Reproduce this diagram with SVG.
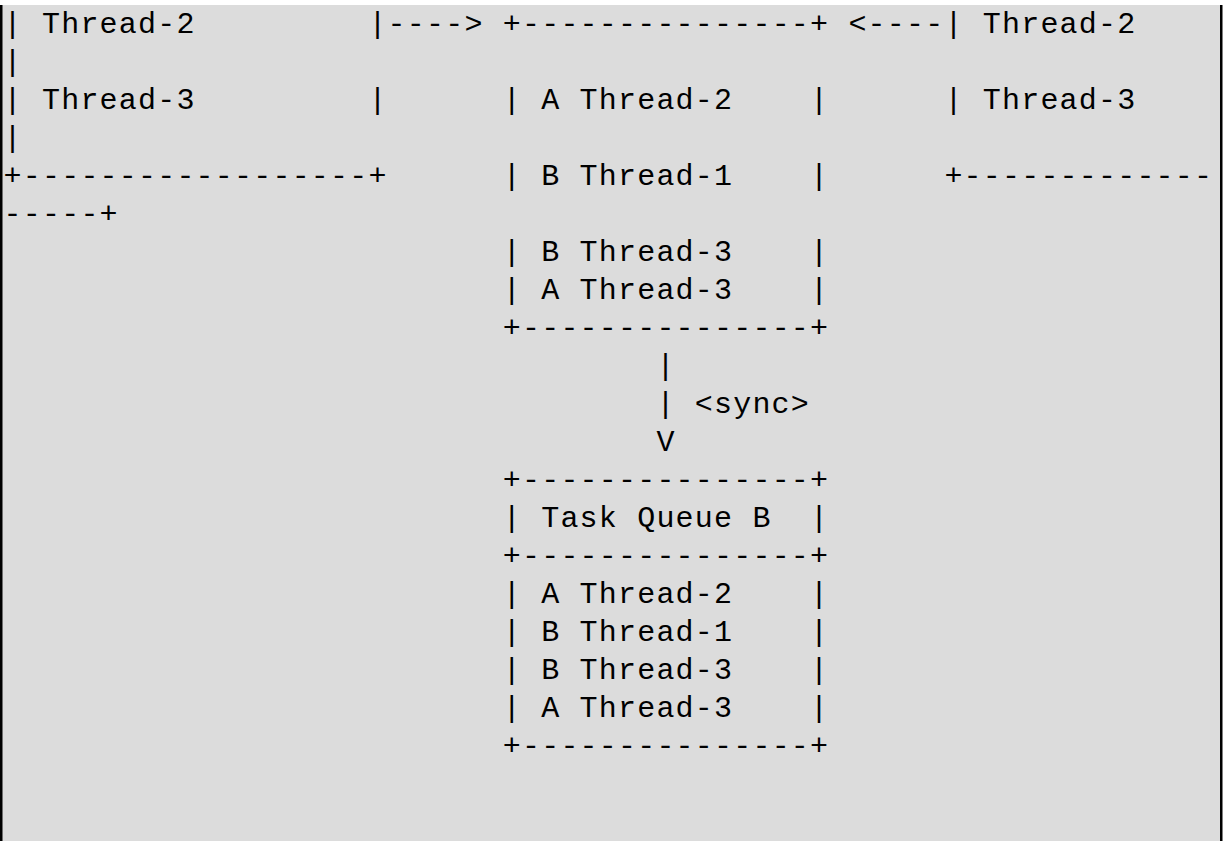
<svg xmlns="http://www.w3.org/2000/svg" width="1225" height="841" viewBox="0 0 1225 841">
<style>
  text { font-family: "Liberation Mono", "DejaVu Sans Mono", monospace; font-size: 30px; letter-spacing: 1.2px; fill: #000; white-space: pre; }
</style>
<rect x="0" y="0" width="1225" height="841" fill="#ffffff"/>
<rect x="2" y="5" width="1218" height="836" fill="#dcdcdc"/>
<rect x="0" y="5" width="2.5" height="836" fill="#000"/>
<rect x="1220" y="5" width="2.5" height="836" fill="#000"/>
<g id="left-threads" xml:space="preserve">
  <text x="3.6" y="33">| Thread-2</text>
  <text x="368.4" y="33">|</text>
  <text x="3.6" y="109">| Thread-3</text>
  <text x="368.4" y="109">|</text>
  <text x="3.6" y="185">+------------------+</text>
</g>
<g id="merged-queue" xml:space="preserve">
  <text x="502.8" y="33">+---------------+</text>
  <text x="502.8" y="109">| A Thread-2    |</text>
  <text x="502.8" y="185">| B Thread-1    |</text>
  <text x="502.8" y="261">| B Thread-3    |</text>
  <text x="502.8" y="299">| A Thread-3    |</text>
  <text x="502.8" y="337">+---------------+</text>
</g>
<g id="right-threads" xml:space="preserve">
  <text x="944.4" y="33">| Thread-2</text>
  <text x="3.6" y="71">|</text>
  <text x="944.4" y="109">| Thread-3</text>
  <text x="3.6" y="147">|</text>
  <text x="944.4" y="185">+-------------</text>
  <text x="3.6" y="223">-----+</text>
</g>
<g id="task-queue-b" xml:space="preserve">
  <text x="502.8" y="489">+---------------+</text>
  <text x="502.8" y="527">| Task Queue B  |</text>
  <text x="502.8" y="565">+---------------+</text>
  <text x="502.8" y="603">| A Thread-2    |</text>
  <text x="502.8" y="641">| B Thread-1    |</text>
  <text x="502.8" y="679">| B Thread-3    |</text>
  <text x="502.8" y="717">| A Thread-3    |</text>
  <text x="502.8" y="755">+---------------+</text>
</g>
<g id="connectors" xml:space="preserve">
  <text x="387.6" y="33">----&gt;</text>
  <text x="848.4" y="33">&lt;----</text>
  <text x="656.4" y="375">|</text>
  <text x="656.4" y="413">|</text>
  <text x="694.8" y="413">&lt;sync&gt;</text>
  <text x="656.4" y="451">V</text>
</g>
</svg>
